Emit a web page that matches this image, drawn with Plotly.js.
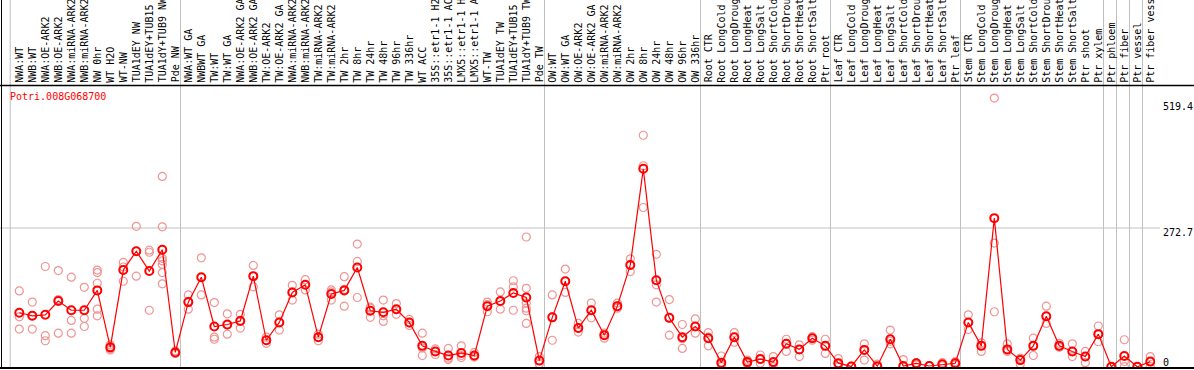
<!DOCTYPE html>
<html>
<head>
<meta charset="utf-8">
<script src="https://cdn.plot.ly/plotly-3.0.1.min.js"></script>
<style>
  html, body { margin: 0; padding: 0; background: #fff; }
  #chart { width: 1194px; height: 370px; }
</style>
</head>
<body>
<div id="chart"></div>
<script>
// ---- data ----
const geneId = "Potri.008G068700";

const categories = [
  "NWA:WT", "NWB:WT", "NWA:OE-ARK2", "NWB:OE-ARK2", "NWA:miRNA-ARK2", "NWB:miRNA-ARK2", "NW 0hr", "WT H2O", "WT-NW", "TUA1dEY NW", "TUA1dEY+TUB15", "TUA1dY+TUB9 NW", "Pde NW",
  "NWA:WT GA", "NWBWT GA", "TW:WT", "TW:WT GA", "NWA:OE-ARK2 GA", "NWB:OE-ARK2 GA", "TW:OE-ARK2", "TW:OE-ARK2 GA", "NWA:miRNA-ARK2", "NWB:miRNA-ARK2", "TW:miRNA-ARK2", "TW:miRNA-ARK2", "TW 2hr", "TW 8hr", "TW 24hr", "TW 48hr", "TW 96hr", "TW 336hr", "WT ACC", "35S::etr1-1 H2", "35S::etr1-1 AC", "LMX5::etr1-1 H", "LMX5::etr1-1 A", "WT-TW", "TUA1dEY TW", "TUA1dEY+TUB15", "TUA1dY+TUB9 TW", "Pde TW",
  "OW:WT", "OW:WT GA", "OW:OE-ARK2", "OW:OE-ARK2 GA", "OW:miRNA-ARK2", "OW:miRNA-ARK2", "OW 2hr", "OW 8hr", "OW 24hr", "OW 48hr", "OW 96hr", "OW 336hr",
  "Root CTR", "Root LongCold", "Root LongDroug", "Root LongHeat", "Root LongSalt", "Root ShortCold", "Root ShortDrou", "Root ShortHeat", "Root ShortSalt", "Ptr root",
  "Leaf CTR", "Leaf LongCold", "Leaf LongDroug", "Leaf LongHeat", "Leaf LongSalt", "Leaf ShortCold", "Leaf ShortDrou", "Leaf ShortHeat", "Leaf ShortSalt", "Ptr leaf",
  "Stem CTR", "Stem LongCold", "Stem LongDroug", "Stem LongHeat", "Stem LongSalt", "Stem ShortCold", "Stem ShortDrou", "Stem ShortHeat", "Stem ShortSalt", "Ptr shoot", "Ptr xylem",
  "Ptr phloem", "Ptr fiber", "Ptr vessel", "Ptr fiber vess"
];

const groupSizes = [13, 28, 12, 10, 10, 11, 1, 1, 1, 1];

const meanValues = [
  106, 100, 102, 129, 111, 111, 150, 38, 190, 227, 188, 230, 28,
  127, 176, 79, 83, 90, 178, 52, 87, 146, 161, 58, 143, 150, 195, 110, 107, 113, 87, 41, 30, 22, 27, 22, 119, 129, 145, 136, 12,
  97, 168, 76, 111, 62, 119, 200, 389, 170, 96, 58, 79,
  56, 8, 58, 9, 15, 9, 45, 34, 56, 41,
  7, 0.5, 33, 1, 54, 1.4, 6.7, 1.4, 4.7, 6.7,
  87, 41, 292, 34, 13, 41, 99, 41, 30, 20, 64,
  0, 21, 0, 10
];

const replicateValues = [
  [149, 98, 74], [127, 100, 74], [197, 61, 51], [189, 132, 66], [176, 91, 66], [156, 95, 79],
  [190, 185, 164, 113, 100], [43, 36, 33], [205, 196, 168], [276, 227, 178], [229, 225, 111],
  [374, 275, 213, 208, 201, 185, 163], [31, 27, 26],
  [141, 128, 113], [214, 175, 141], [126, 58, 54], [104, 82, 64], [103, 91, 76], [199, 178, 157],
  [58, 52, 46], [102, 88, 72], [160, 147, 131], [171, 161, 151], [64, 58, 51], [151, 147, 131],
  [177, 152, 119], [241, 207, 136], [117, 115, 97], [131, 100, 89], [124, 112, 103], [93, 86, 81],
  [66, 37, 22], [35, 30, 24], [36, 17, 14], [41, 22, 18], [28, 20, 19], [127, 122, 108],
  [147, 128, 113], [169, 157, 111], [255, 154, 125, 115, 110, 85], [20, 12, 5],
  [141, 98, 52], [192, 168, 146], [85, 76, 68], [125, 111, 96], [66, 62, 56], [125, 119, 115],
  [212, 200, 187], [455, 395, 313], [221, 161, 127], [132, 96, 62], [83, 55, 36], [94, 79, 66],
  [67, 58, 41], [21, 4, 0], [67, 58, 48], [13, 7, 6], [23, 14, 7], [20, 8, 0], [54, 45, 30],
  [43, 34, 20], [59, 56, 52], [54, 41, 26],
  [16, 5, 0], [1.4, 0.5, 0], [45, 33, 13], [5, 0, 0], [72, 50, 45], [14, 0, 0], [8, 6, 3.4],
  [2, 1, 1], [8, 4, 1.4], [10, 7, 3.4],
  [102, 87, 73], [47, 41, 30], [528, 243, 108], [45, 34, 30], [17, 13, 5], [56, 41, 22],
  [119, 99, 85], [46, 41, 38], [45, 30, 20], [30, 20, 8], [80, 64, 49],
  [0, 0, 0], [53, 10, 0], [0, 0, 0], [20, 10, 0]
];

const yLabelValues = [0, 272.7, 519.4];
const yLabelText = ["0", "272.7", "519.4"];

// ---- build ----
const FONT = "DejaVu Sans Mono, Liberation Mono, monospace";
const W = 1194, H = 370;
const mL = 0, mR = 39, mT = 0, mB = 2;
const plotW = W - mL - mR, plotH = H - mT - mB;

const xIdx = categories.map((_, i) => i);
const repX = [], repY = [];
replicateValues.forEach((arr, i) => arr.forEach(v => { repX.push(i); repY.push(v); }));

const grey = "#c0c0c0";
const shapes = [];
// group separator lines (through header)
const sepPositions = [-0.7];
let acc = 0;
groupSizes.forEach(s => { acc += s; sepPositions.push(acc - 1 + 0.4); });
sepPositions.forEach(xp => shapes.push({
  type: "line", xref: "x", yref: "paper", x0: xp, x1: xp, y0: 0, y1: 1,
  line: {color: grey, width: 1}, layer: "below"
}));
// horizontal grid at middle label
shapes.push({type: "line", xref: "paper", yref: "y", x0: 0, x1: 1160 / plotW, y0: 272.7, y1: 272.7,
  line: {color: grey, width: 1}, layer: "below"});
// frame lines
const headerY = 1 - 85.5 / plotH;
shapes.push({type: "line", xref: "paper", yref: "paper", x0: 0, x1: W / plotW, y0: headerY, y1: headerY,
  line: {color: "#000", width: 1.5}});
shapes.push({type: "line", xref: "paper", yref: "paper", x0: 0, x1: W / plotW, y0: 0, y1: 0,
  line: {color: "#000", width: 2}});
shapes.push({type: "line", xref: "paper", yref: "paper", x0: 1.5 / plotW, x1: 1.5 / plotW, y0: 0, y1: 1,
  line: {color: "#000", width: 1}});

const annotations = [];
categories.forEach((c, i) => annotations.push({
  x: i, xref: "x", y: 1 - 82.5 / plotH, yref: "paper",
  text: c, showarrow: false, textangle: -90, xanchor: "center", yanchor: "bottom",
  borderpad: 0, borderwidth: 0,
  font: {family: FONT, size: 10, color: "#000"}
}));
annotations.push({
  x: 9 / plotW, xref: "paper", y: 1 - 96.5 / plotH, yref: "paper",
  text: geneId, showarrow: false, xanchor: "left", yanchor: "middle", borderpad: 0,
  font: {family: FONT, size: 10, color: "#ff0000"}
});
yLabelValues.forEach((v, k) => annotations.push({
  x: 1162 / plotW, xref: "paper", y: v, yref: "y",
  text: yLabelText[k], showarrow: false, xanchor: "left", yanchor: "middle", borderpad: 0,
  yshift: v === 0 ? 4.5 : -4.5,
  font: {family: FONT, size: 10, color: "#000"}
}));

// pixel mapping: 0 at 366.7px, 0.5087 px / unit
const pxPerUnit = 0.5087;
const zeroPx = 366.7;
const yMin = -(plotH - zeroPx) / pxPerUnit;
const yMax = zeroPx / pxPerUnit;
// x mapping: first category at 19.3px, 13px spacing
const xMin = -19.3 / 13;
const xMax = xMin + plotW / 13;

const traces = [
  {
    x: repX, y: repY, type: "scatter", mode: "markers", hoverinfo: "skip",
    marker: {symbol: "circle-open", size: 8, color: "#f09494", line: {width: 1.2, color: "#f09494"}}
  },
  {
    x: xIdx, y: meanValues, type: "scatter", mode: "lines+markers", hoverinfo: "skip",
    line: {color: "#ff0000", width: 1.2},
    marker: {symbol: "circle-open", size: 8, color: "#ff0000", line: {width: 2, color: "#ff0000"}}
  }
];

const layout = {
  width: W, height: H,
  margin: {l: mL, r: mR, t: mT, b: mB, pad: 0},
  paper_bgcolor: "#fff", plot_bgcolor: "#fff",
  showlegend: false,
  xaxis: {range: [xMin, xMax], showgrid: false, zeroline: false, showticklabels: false, ticks: "", showline: false, fixedrange: true},
  yaxis: {range: [yMin, yMax], showgrid: false, zeroline: false, showticklabels: false, ticks: "", showline: false, fixedrange: true},
  shapes: shapes,
  annotations: annotations
};

Plotly.newPlot("chart", traces, layout, {staticPlot: true, displayModeBar: false});
</script>
</body>
</html>
